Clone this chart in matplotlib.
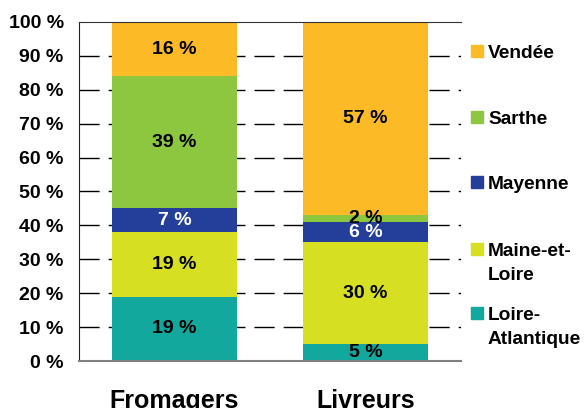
import matplotlib.pyplot as plt
from matplotlib.patches import Rectangle

categories = ["Fromagers", "Livreurs"]
regions = ["Loire-\nAtlantique", "Maine-et-\nLoire", "Mayenne", "Sarthe", "Vendée"]
loire_atlantique = [19, 5]
maine_et_loire = [19, 30]
mayenne = [7, 6]
sarthe = [39, 2]
vendee = [16, 57]
y_ticks = [0, 10, 20, 30, 40, 50, 60, 70, 80, 90, 100]

series = [loire_atlantique, maine_et_loire, mayenne, sarthe, vendee]
colors = ["#13A89E", "#D7DF23", "#233F99", "#8DC63F", "#FBBA26"]
text_colors = ["black", "black", "white", "black", "black"]

plt.rcParams["font.family"] = ["Liberation Sans", "DejaVu Sans"]
plt.rcParams["font.weight"] = "bold"

W, H = 585, 408
fig = plt.figure(figsize=(W / 100, H / 100), dpi=100)
ax = fig.add_axes([79 / W, 1 - 361 / H, (461 - 79) / W, (361 - 22) / H])

x = list(range(len(categories)))
bottom = [0] * len(categories)
for vals, col, tcol in zip(series, colors, text_colors):
    ax.bar(x, vals, bottom=bottom, width=0.65, color=col, zorder=2)
    for xi, b, v in zip(x, bottom, vals):
        ax.text(xi, b + v / 2, f"{v} %", ha="center", va="center",
                fontsize=14, fontweight="bold", color=tcol, zorder=3)
    bottom = [b + v for b, v in zip(bottom, vals)]

for yv in y_ticks[1:-1]:
    ax.axhline(yv, color="black", lw=1.0, dashes=(14.5, 6.5), zorder=1)

ax.set_xlim(-0.5, 1.5)
ax.set_ylim(0, 100)
ax.set_yticks(y_ticks)
ax.set_yticklabels([f"{v} %" for v in y_ticks], fontsize=14, fontweight="bold")
ax.set_xticks(x)
ax.set_xticklabels(categories, fontsize=18, fontweight="bold")
ax.tick_params(axis="y", length=0, pad=11)
ax.tick_params(axis="x", length=0, pad=20)
ax.spines["right"].set_visible(False)
ax.spines["top"].set_color("#333333")
ax.spines["left"].set_color("#222222")
ax.spines["bottom"].set_color("#808080")
ax.spines["bottom"].set_linewidth(1.5)

# legend, top entry first
legend_y = [51, 117, 182, 249, 313]
for name, col, yc in zip(regions[::-1], colors[::-1], legend_y):
    fig.patches.append(Rectangle((471 / W, 1 - (yc + 6) / H), 12 / W, 12 / H,
                                 transform=fig.transFigure, color=col))
    for i, line in enumerate(name.split("\n")):
        base = yc + i * 23.5 + 7
        fig.text(488 / W, 1 - base / H, line, fontsize=13.8, fontweight="bold",
                 va="baseline", ha="left")

fig.savefig("out.png", dpi=100)
